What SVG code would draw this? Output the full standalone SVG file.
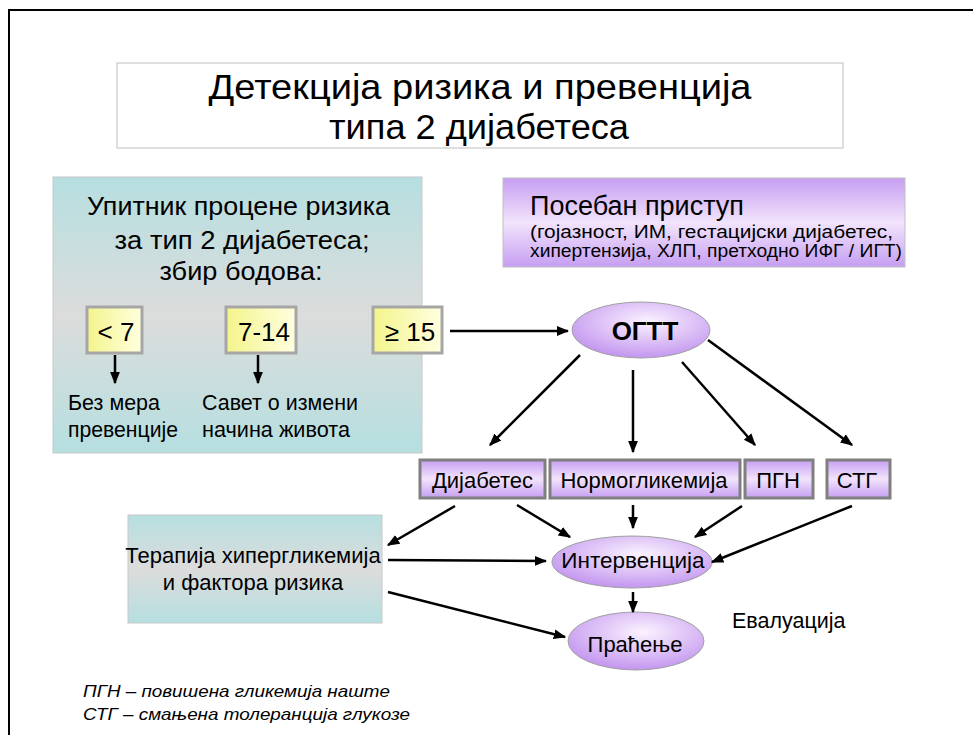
<svg xmlns="http://www.w3.org/2000/svg" width="973" height="735" viewBox="0 0 973 735">
<defs>
<linearGradient id="teal" x1="0" y1="0" x2="0" y2="1">
<stop offset="0" stop-color="#b6dfe0"/>
<stop offset="0.5" stop-color="#dcdcdc"/>
<stop offset="1" stop-color="#b6dfe0"/>
</linearGradient>
<linearGradient id="purp" x1="0" y1="0" x2="0" y2="1">
<stop offset="0" stop-color="#c69ef2"/>
<stop offset="0.5" stop-color="#f2e4fc"/>
<stop offset="1" stop-color="#c69ef2"/>
</linearGradient>
<linearGradient id="yel" x1="0" y1="0" x2="1" y2="0">
<stop offset="0" stop-color="#f4f48c"/>
<stop offset="1" stop-color="#ffffe0"/>
</linearGradient>
<radialGradient id="ell" cx="0.55" cy="0.35" r="0.7">
<stop offset="0" stop-color="#fbf3ff"/>
<stop offset="1" stop-color="#bf8fee"/>
</radialGradient>
<marker id="ah" viewBox="0 0 10 10" refX="9" refY="5" markerWidth="5" markerHeight="5" orient="auto" markerUnits="strokeWidth">
<path d="M0,1 L10,5 L0,9 z" fill="#000"/>
</marker>
<style>
text{font-family:"Liberation Sans",Arial,sans-serif;fill:#000}
.c{text-anchor:middle}
.tb{fill:url(#teal);stroke:#c8c8c8;stroke-width:1}
.yb{fill:url(#yel);stroke:#a6a6a6;stroke-width:3}
.rb{fill:url(#purp);stroke:#7f7f7f;stroke-width:3}
.el{fill:url(#ell);stroke:#a0a0a0;stroke-width:1}
.con line{stroke:#000;stroke-width:2.5;marker-end:url(#ah)}
.t22{font-size:22px}
.t21{font-size:21.5px}
.t26{font-size:26.5px}
.fn{font-size:16.5px;font-style:italic}
</style>
</defs>
<rect width="973" height="735" fill="#fff"/>
<g id="frame"><path d="M9,735 L9,10 L973,10" fill="none" stroke="#000" stroke-width="2"/></g>

<g id="title">
<rect x="117" y="63" width="726" height="85" fill="#fff" stroke="#bfbfbf" stroke-width="1"/>
<text class="c" x="480" y="99" font-size="35" textLength="543" lengthAdjust="spacingAndGlyphs">Детекција ризика и превенција</text>
<text class="c" x="479" y="139" font-size="35" textLength="300" lengthAdjust="spacingAndGlyphs">типа 2 дијабетеса</text>
</g>

<g id="questionnaire">
<rect class="tb" x="53" y="177" width="369" height="276"/>
<text class="c t26" x="238.5" y="215" textLength="303" lengthAdjust="spacingAndGlyphs">Упитник процене ризика</text>
<text class="c t26" x="242" y="249" textLength="255" lengthAdjust="spacingAndGlyphs">за тип 2 дијабетеса;</text>
<text class="c t26" x="241" y="280" textLength="163" lengthAdjust="spacingAndGlyphs">збир бодова:</text>
<text class="t21" x="68" y="410" textLength="92" lengthAdjust="spacingAndGlyphs">Без мера</text>
<text class="t21" x="68" y="437" textLength="110" lengthAdjust="spacingAndGlyphs">превенције</text>
<text class="t21" x="202" y="410" textLength="156" lengthAdjust="spacingAndGlyphs">Савет о измени</text>
<text class="t21" x="202" y="437" textLength="148" lengthAdjust="spacingAndGlyphs">начина живота</text>
</g>

<g id="score-lt7">
<rect class="yb" x="87" y="307" width="55" height="46"/>
<text class="c" x="116" y="341" font-size="26">&lt; 7</text>
</g>
<g id="score-7-14">
<rect class="yb" x="226" y="307" width="70" height="46"/>
<text class="c" x="264" y="341" font-size="26">7-14</text>
</g>
<g id="score-ge15">
<rect class="yb" x="373" y="307" width="69" height="46"/>
<text class="c" x="410" y="341" font-size="26">≥ 15</text>
</g>

<g id="special">
<rect x="503" y="178" width="402" height="89" fill="url(#purp)" stroke="#c0c0c0" stroke-width="1"/>
<text x="530" y="215" font-size="27">Посебан приступ</text>
<text x="530" y="238" font-size="17.5" textLength="363" lengthAdjust="spacingAndGlyphs">(гојазност, ИМ, гестацијски дијабетес,</text>
<text x="530" y="257" font-size="17.5" textLength="372" lengthAdjust="spacingAndGlyphs">хипертензија, ХЛП, претходно ИФГ / ИГТ)</text>
</g>

<g id="ogtt">
<ellipse class="el" cx="641" cy="330" rx="69" ry="28"/>
<text class="c" x="645" y="340" font-size="26" font-weight="bold">ОГТТ</text>
</g>

<g id="diabetes">
<rect class="rb" x="420" y="460" width="125" height="38"/>
<text class="c t22" x="482.5" y="488">Дијабетес</text>
</g>
<g id="normo">
<rect class="rb" x="550" y="460" width="190" height="38"/>
<text class="c t22" x="644" y="488">Нормогликемија</text>
</g>
<g id="pgn">
<rect class="rb" x="745" y="460" width="68" height="38"/>
<text class="c t22" x="778" y="488">ПГН</text>
</g>
<g id="stg">
<rect class="rb" x="827" y="460" width="63" height="38"/>
<text class="c t22" x="857" y="488">СТГ</text>
</g>

<g id="therapy">
<rect class="tb" x="128" y="515" width="254" height="108"/>
<text class="c t22" x="253" y="563">Терапија хипергликемија</text>
<text class="c t22" x="253" y="590">и фактора ризика</text>
</g>

<g id="intervention">
<ellipse class="el" cx="632" cy="562" rx="80" ry="26"/>
<text class="c" x="633" y="568" font-size="22.5">Интервенција</text>
</g>

<g id="followup">
<ellipse class="el" cx="636" cy="641" rx="68" ry="29"/>
<text class="c t22" x="635" y="652">Праћење</text>
</g>

<g id="evaluation-label">
<text x="732" y="628" font-size="21.5">Евалуација</text>
</g>

<g id="footnote">
<text class="fn" x="83" y="697" textLength="307" lengthAdjust="spacingAndGlyphs">ПГН – повишена гликемија наште</text>
<text class="fn" x="83" y="720" textLength="327" lengthAdjust="spacingAndGlyphs">СТГ – смањена толеранција глукозе</text>
</g>

<g id="connectors" class="con">
<line x1="115" y1="355" x2="115" y2="383"/>
<line x1="258" y1="355" x2="258" y2="383"/>
<line x1="450" y1="331" x2="568" y2="331"/>
<line x1="580" y1="355" x2="490" y2="445"/>
<line x1="633" y1="370" x2="633" y2="452"/>
<line x1="682" y1="362" x2="755" y2="445"/>
<line x1="708" y1="340" x2="852" y2="445"/>
<line x1="455" y1="506" x2="388" y2="545"/>
<line x1="517" y1="505" x2="570" y2="537"/>
<line x1="633" y1="505" x2="633" y2="528"/>
<line x1="742" y1="506" x2="695" y2="537"/>
<line x1="852" y1="506" x2="712" y2="562"/>
<line x1="388" y1="560" x2="546" y2="561"/>
<line x1="388" y1="592" x2="565" y2="637"/>
<line x1="633" y1="592" x2="633" y2="612"/>
</g>
</svg>
